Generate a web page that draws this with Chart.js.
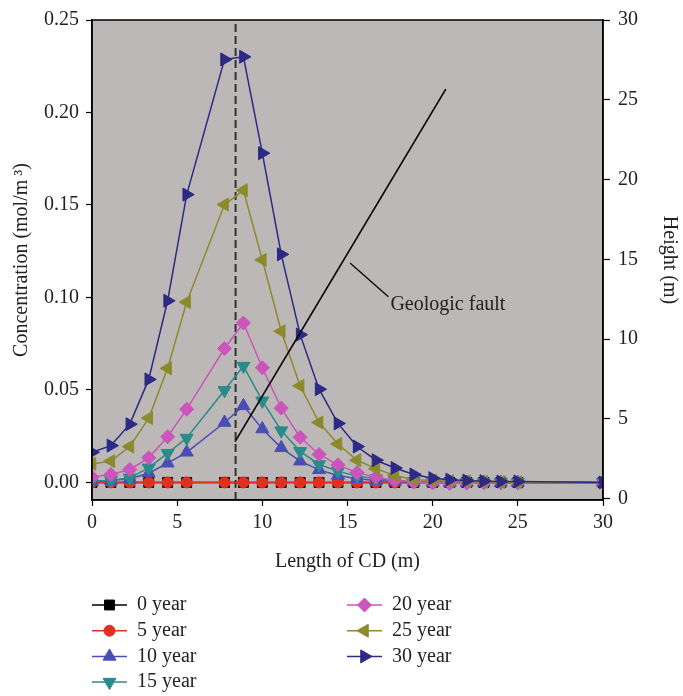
<!DOCTYPE html>
<html>
<head>
<meta charset="utf-8">
<script src="https://cdn.jsdelivr.net/npm/chart.js@4/dist/chart.umd.min.js"></script>
<style>
  html, body { margin: 0; padding: 0; background: #ffffff; }
  #wrap { width: 683px; height: 696px; position: relative; }
</style>
</head>
<body>
<div id="wrap"><canvas id="c" width="683" height="696"></canvas></div>
<script>
// ---- data ----
const lengthCD = [0, 1.11, 2.22, 3.33, 4.44, 5.56, 7.78, 8.89, 10, 11.11, 12.22, 13.33, 14.44, 15.56, 16.67, 17.78, 18.89, 20, 21, 22, 23, 24, 25, 30];
const seriesNames = ["0 year", "5 year", "10 year", "15 year", "20 year", "25 year", "30 year"];
const year0  = [0,0,0,0,0,0,0,0,0,0,0,0,0,0,0,0,0,0,0,0,0,0,0,0];
const year5  = [0,0,0,0,0,0,0,0,0,0,0,0,0,0,0,0,0,0,0,0,0,0,0,0];
const year10 = [0.0004,0.0010,0.0020,0.0050,0.0104,0.0163,0.0324,0.0414,0.0289,0.0187,0.0115,0.0068,0.0038,0.0020,0.0010,0.0005,0.0002,0.0001,0,0,0,0,0,0];
const year15 = [0.0008,0.0011,0.0025,0.0079,0.0158,0.0240,0.0498,0.0629,0.0441,0.0280,0.0168,0.0097,0.0061,0.0034,0.0020,0.0010,0.0005,0.0002,0.0001,0,0,0,0,0];
const year20 = [0.0029,0.0043,0.0070,0.0133,0.0247,0.0396,0.0724,0.0862,0.0620,0.0402,0.0244,0.0151,0.0095,0.0053,0.0028,0.0011,0.0003,-0.0003,-0.0006,-0.0004,-0.0002,0,0,0];
const year25 = [0.0100,0.0115,0.0194,0.0348,0.0617,0.0975,0.1502,0.1579,0.1203,0.0817,0.0522,0.0324,0.0208,0.0120,0.0074,0.0038,0.0015,0.0010,0.0007,0.0005,0.0003,0.0002,0.0001,0];
const year30 = [0.0163,0.0199,0.0315,0.0557,0.0982,0.1556,0.2287,0.2301,0.1780,0.1233,0.0799,0.0504,0.0319,0.0194,0.0120,0.0078,0.0043,0.0023,0.0015,0.0010,0.0007,0.0005,0.0005,0];
const seriesValues = [year0, year5, year10, year15, year20, year25, year30];

// geologic fault line (x in m, height in m) and annotation
const faultX = [8.40, 20.77];
const faultH = [3.57, 25.67];
const leaderX = [15.15, 17.40];
const leaderH = [14.77, 12.65];
const faultLabel = { text: "Geologic fault", x: 17.52, h: 12.15 };
const boundaryX = 8.43; // dashed vertical line

const xTicks = [0, 5, 10, 15, 20, 25, 30];
const yTicks = [0, 0.05, 0.10, 0.15, 0.20, 0.25];
const y1Ticks = [0, 5, 10, 15, 20, 25, 30];

// ---- styles ----
const colors = ["#000000", "#e0301e", "#4b4db6", "#2a8b8b", "#cc55bb", "#8b8b2b", "#2c2a84"];
const styles = [
  { ps: "rect", rot: 0, r: 7 },
  { ps: "circle", rot: 0, r: 5.5 },
  { ps: "triangle", rot: 0, r: 7.5 },
  { ps: "triangle", rot: 180, r: 7.5 },
  { ps: "rectRot", rot: 0, r: 7 },
  { ps: "triangle", rot: 270, r: 7.5 },
  { ps: "triangle", rot: 90, r: 7.5 }
];
const FONT = "'Liberation Serif', 'Times New Roman', serif";
const TXT = "#222222";
const FS = 20;

const datasets = seriesNames.map((name, i) => ({
  type: "line",
  label: name,
  data: lengthCD.map((x, k) => ({ x: x, y: seriesValues[i][k] })),
  borderColor: colors[i],
  backgroundColor: colors[i],
  borderWidth: 1.5,
  pointStyle: styles[i].ps,
  rotation: styles[i].rot,
  pointRadius: styles[i].r,
  pointBorderWidth: 1,
  pointBackgroundColor: colors[i],
  pointBorderColor: colors[i],
  yAxisID: "y",
  order: 20 - i,
  tension: 0
}));

datasets.push({
  type: "line", label: "_fault",
  data: faultX.map((x, k) => ({ x: x, y: faultH[k] })),
  borderColor: "#000000", borderWidth: 1.6, pointRadius: 0, yAxisID: "y1", order: 0
});
datasets.push({
  type: "line", label: "_leader",
  data: leaderX.map((x, k) => ({ x: x, y: leaderH[k] })),
  borderColor: "#000000", borderWidth: 1.2, pointRadius: 0, yAxisID: "y1", order: 0
});
datasets.push({
  type: "line", label: "_boundary",
  data: [{ x: boundaryX, y: -0.0095 }, { x: boundaryX, y: 0.25 }],
  borderColor: "#333333", borderWidth: 2, borderDash: [8, 4], pointRadius: 0, yAxisID: "y", order: 30
});

function drawMarker(ctx, st, x, y, color) {
  ctx.save();
  ctx.fillStyle = color; ctx.strokeStyle = color; ctx.lineWidth = 1;
  ctx.translate(x, y);
  ctx.rotate(st.rot * Math.PI / 180);
  const r = st.r;
  ctx.beginPath();
  if (st.ps === "rect") {
    const s = r * Math.SQRT1_2; ctx.rect(-s, -s, 2 * s, 2 * s);
  } else if (st.ps === "circle") {
    ctx.arc(0, 0, r, 0, Math.PI * 2);
  } else if (st.ps === "rectRot") {
    ctx.moveTo(0, -r); ctx.lineTo(r, 0); ctx.lineTo(0, r); ctx.lineTo(-r, 0); ctx.closePath();
  } else {
    for (let k = 0; k < 3; k++) {
      const a = k * 2 * Math.PI / 3;
      const px = Math.sin(a) * r, py = -Math.cos(a) * r;
      if (k === 0) ctx.moveTo(px, py); else ctx.lineTo(px, py);
    }
    ctx.closePath();
  }
  ctx.fill(); ctx.stroke();
  ctx.restore();
}

const customPlugin = {
  id: "custom",
  beforeDraw(chart) {
    const { ctx, chartArea: a } = chart;
    ctx.save();
    ctx.fillStyle = "#bcb8b7";
    ctx.fillRect(a.left, a.top, a.right - a.left, a.bottom - a.top);
    ctx.restore();
  },
  afterDraw(chart) {
    const { ctx, chartArea: a } = chart;
    ctx.save();
    // frame
    ctx.strokeStyle = "#000"; ctx.lineWidth = 1.5;
    ctx.strokeRect(a.left, a.top, a.right - a.left, a.bottom - a.top);
    // annotation text
    const sx = chart.scales.x, sy1 = chart.scales.y1;
    ctx.fillStyle = TXT;
    ctx.font = FS + "px " + FONT;
    ctx.textAlign = "left"; ctx.textBaseline = "middle";
    ctx.fillText(faultLabel.text, sx.getPixelForValue(faultLabel.x), sy1.getPixelForValue(faultLabel.h));
    // legend (two columns)
    const colX = [92, 347];
    for (let i = 0; i < seriesNames.length; i++) {
      const col = i < 4 ? 0 : 1;
      const row = i < 4 ? i : i - 4;
      const x0 = colX[col];
      const y = 605 + row * 25.7;
      ctx.strokeStyle = colors[i]; ctx.lineWidth = 1.5;
      ctx.beginPath(); ctx.moveTo(x0, y); ctx.lineTo(x0 + 35, y); ctx.stroke();
      drawMarker(ctx, styles[i], x0 + 17.5, y, colors[i]);
      ctx.fillStyle = TXT;
      ctx.fillText(seriesNames[i], x0 + 45, y);
    }
    ctx.restore();
  }
};

const tickFont = { family: FONT, size: FS };

new Chart(document.getElementById("c"), {
  data: { datasets: datasets },
  options: {
    responsive: false,
    animation: false,
    layout: { padding: { top: 17, left: 0, right: 0, bottom: 116 } },
    plugins: { legend: { display: false }, tooltip: { enabled: false } },
    scales: {
      x: {
        type: "linear", position: "bottom", min: 0, max: 30,
        afterBuildTicks: s => { s.ticks = xTicks.map(v => ({ value: v })); },
        afterFit: s => { s.height = 80; },
        ticks: { font: tickFont, color: TXT, padding: 5, maxRotation: 0 },
        grid: { drawOnChartArea: false, tickLength: 6, color: "#000", tickWidth: 1.2 },
        border: { color: "#000", width: 1.5 },
        title: { display: true, text: "Length of CD (m)", font: tickFont, color: TXT, padding: { bottom: 6, top: 0 } }
      },
      y: {
        type: "linear", position: "left", min: -0.0095, max: 0.25,
        afterBuildTicks: s => { s.ticks = yTicks.map(v => ({ value: v })); },
        afterFit: s => { s.width = 92; },
        ticks: { font: tickFont, color: TXT, padding: 7, callback: v => Number(v).toFixed(2) },
        grid: { drawOnChartArea: false, tickLength: 6, color: "#000", tickWidth: 1.2 },
        border: { color: "#000", width: 1.5 },
        title: { display: true, text: "Concentration (mol/m\u2009\u00B3)", font: tickFont, color: TXT, padding: { top: 10, bottom: 0 } }
      },
      y1: {
        type: "linear", position: "right", min: -0.09, max: 30,
        afterBuildTicks: s => { s.ticks = y1Ticks.map(v => ({ value: v })); },
        afterFit: s => { s.width = 80; },
        ticks: { font: tickFont, color: TXT, padding: 8 },
        grid: { drawOnChartArea: false, tickLength: 7, color: "#000", tickWidth: 1.2 },
        border: { color: "#000", width: 1.5 },
        title: { display: true, text: "Height (m)", font: tickFont, color: TXT, padding: { top: 2, bottom: 0 } }
      }
    }
  },
  plugins: [customPlugin]
});
</script>
</body>
</html>
